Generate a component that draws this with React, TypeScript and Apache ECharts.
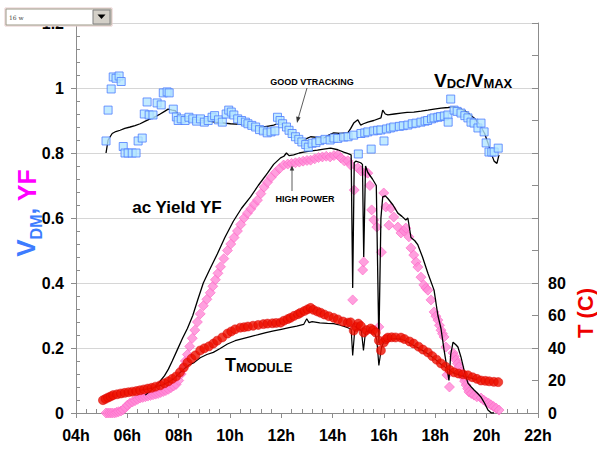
import React, { useEffect, useRef } from "react";
import * as echarts from "echarts";

// V_DM (blue squares) [hour, value]
const vdmPoints: [number, number][] = [
  [5.17, 0.837], [5.25, 0.932], [5.37, 0.997], [5.45, 1.034], [5.56, 1.03], [5.68, 1.037], [5.76, 1.02],
  [5.84, 0.82], [5.91, 0.8], [6.03, 0.8], [6.19, 0.8], [6.34, 0.8], [6.42, 0.837], [6.58, 0.846],
  [6.66, 0.92], [6.77, 0.957], [6.85, 0.917], [7.0, 0.917], [7.16, 0.954], [7.32, 0.948], [7.4, 0.985],
  [7.55, 0.988], [7.63, 0.985], [7.79, 0.935], [7.91, 0.911], [7.98, 0.9], [8.1, 0.905], [8.25, 0.9],
  [8.4, 0.91], [8.55, 0.905], [8.7, 0.898], [8.85, 0.905], [9.0, 0.895], [9.15, 0.9], [9.3, 0.91],
  [9.4, 0.915], [9.55, 0.902], [9.7, 0.895], [9.85, 0.92], [9.95, 0.932], [10.05, 0.926], [10.15, 0.917],
  [10.3, 0.905], [10.45, 0.9], [10.6, 0.895], [10.7, 0.89], [10.85, 0.885], [11.0, 0.88], [11.15, 0.872],
  [11.3, 0.868], [11.45, 0.862], [11.6, 0.865], [11.75, 0.868], [11.85, 0.91], [11.95, 0.9], [12.05, 0.89],
  [12.2, 0.88], [12.3, 0.87], [12.42, 0.86], [12.55, 0.85], [12.68, 0.842], [12.8, 0.834], [12.95, 0.826],
  [13.05, 0.818], [13.2, 0.83], [13.35, 0.832], [13.5, 0.838], [13.7, 0.842], [13.9, 0.84], [14.05, 0.846],
  [14.2, 0.845], [14.43, 0.849], [14.6, 0.85], [14.82, 0.855], [15.0, 0.797], [15.1, 0.86], [15.25, 0.862],
  [15.37, 0.865], [15.5, 0.812], [15.6, 0.868], [15.75, 0.87], [15.88, 0.871], [16.0, 0.837], [16.1, 0.874],
  [16.25, 0.877], [16.38, 0.88], [16.6, 0.882], [16.75, 0.884], [16.93, 0.886], [17.1, 0.89], [17.25, 0.892],
  [17.44, 0.895], [17.6, 0.898], [17.7, 0.9], [17.85, 0.905], [17.95, 0.908], [18.1, 0.91], [18.2, 0.912],
  [18.35, 0.914], [18.49, 0.917], [18.5, 0.895], [18.6, 0.966], [18.73, 0.932], [18.85, 0.928], [19.0, 0.923],
  [19.15, 0.915], [19.27, 0.908], [19.39, 0.895], [19.51, 0.892], [19.66, 0.877], [19.78, 0.892], [19.9, 0.865],
  [19.98, 0.831], [20.09, 0.803], [20.2, 0.803], [20.29, 0.803], [20.45, 0.815],
];

// Vdc/Vmax (black line near squares)
const vdcVmaxLine: [number, number][] = [
  [5.17, 0.8], [5.25, 0.84], [5.41, 0.86], [5.55, 0.866], [5.72, 0.87], [5.9, 0.876], [6.11, 0.88],
  [6.3, 0.884], [6.5, 0.89], [6.7, 0.898], [6.89, 0.905], [7.1, 0.912], [7.28, 0.92], [7.45, 0.928],
  [7.59, 0.935], [7.75, 0.932], [7.87, 0.93], [8.06, 0.91], [8.25, 0.908], [8.45, 0.905], [8.65, 0.903],
  [8.84, 0.9], [9.1, 0.898], [9.43, 0.895], [9.7, 0.893], [10.02, 0.89], [10.4, 0.888], [10.8, 0.886],
  [11.05, 0.882], [11.3, 0.88], [11.5, 0.883], [11.7, 0.886], [11.85, 0.89], [11.97, 0.895], [12.15, 0.878],
  [12.36, 0.865], [12.5, 0.852], [12.63, 0.846], [12.87, 0.84], [13.0, 0.845], [13.14, 0.85], [13.4, 0.848],
  [13.65, 0.846], [13.85, 0.855], [14.04, 0.862], [14.3, 0.86], [14.59, 0.862], [14.7, 0.875], [14.82, 0.892],
  [14.98, 0.902], [15.09, 0.886], [15.2, 0.89], [15.37, 0.895], [15.6, 0.9], [15.88, 0.908], [15.95, 0.932],
  [16.05, 0.92], [16.15, 0.917], [16.4, 0.92], [16.66, 0.923], [16.9, 0.925], [17.16, 0.926], [17.45, 0.929],
  [17.71, 0.932], [17.95, 0.935], [18.22, 0.938], [18.5, 0.94], [18.73, 0.942], [19.0, 0.935], [19.15, 0.93],
  [19.27, 0.923], [19.51, 0.908], [19.65, 0.895], [19.78, 0.88], [19.92, 0.86], [20.05, 0.831], [20.17, 0.8],
  [20.29, 0.775], [20.4, 0.768], [20.48, 0.794],
];

// ac Yield YF (pink diamonds)
const yieldPoints: [number, number][] = [
  [5.17, 0], [5.25, 0], [5.33, 0], [5.41, 0], [5.5, 0], [5.58, 0.002], [5.66, 0.004], [5.75, 0.006],
  [5.83, 0.01], [5.92, 0.016], [6.0, 0.024], [6.1, 0.03], [6.2, 0.034], [6.3, 0.038], [6.4, 0.042],
  [6.5, 0.046], [6.6, 0.048], [6.7, 0.05], [6.8, 0.052], [6.9, 0.054], [7.0, 0.056], [7.1, 0.058],
  [7.2, 0.06], [7.3, 0.063], [7.4, 0.066], [7.5, 0.069], [7.6, 0.073], [7.7, 0.078], [7.8, 0.083],
  [7.9, 0.088], [8.0, 0.1], [8.1, 0.12], [8.18, 0.14], [8.26, 0.16], [8.34, 0.18], [8.43, 0.205],
  [8.53, 0.23], [8.63, 0.255], [8.73, 0.28], [8.84, 0.305], [8.96, 0.33], [9.1, 0.35], [9.23, 0.37],
  [9.33, 0.39], [9.43, 0.41], [9.53, 0.43], [9.63, 0.45], [9.76, 0.475], [9.9, 0.5], [10.03, 0.52],
  [10.16, 0.54], [10.29, 0.56], [10.42, 0.58], [10.55, 0.6], [10.68, 0.615], [10.81, 0.628], [10.94, 0.642],
  [11.07, 0.655], [11.2, 0.675], [11.33, 0.695], [11.46, 0.71], [11.6, 0.725], [11.77, 0.74], [11.93, 0.752],
  [12.09, 0.763], [12.25, 0.766], [12.4, 0.768], [12.55, 0.77], [12.7, 0.772], [12.85, 0.775], [13.0, 0.777],
  [13.14, 0.778], [13.3, 0.782], [13.45, 0.786], [13.6, 0.788], [13.75, 0.79], [13.9, 0.788], [14.05, 0.792],
  [14.2, 0.794], [14.32, 0.785], [14.45, 0.776], [14.59, 0.776], [14.7, 0.763], [14.78, 0.348], [14.84, 0.686],
  [14.98, 0.754], [15.1, 0.745], [15.17, 0.44], [15.21, 0.465], [15.3, 0.74], [15.37, 0.738], [15.45, 0.7],
  [15.52, 0.625], [15.6, 0.594], [15.72, 0.572], [15.8, 0.265], [15.9, 0.495], [15.99, 0.677], [16.07, 0.634],
  [16.19, 0.578], [16.27, 0.63], [16.38, 0.603], [16.54, 0.572], [16.66, 0.554], [16.78, 0.56], [16.85, 0.569],
  [16.97, 0.542], [17.05, 0.508], [17.16, 0.486], [17.25, 0.465], [17.32, 0.449], [17.44, 0.418], [17.55, 0.394],
  [17.63, 0.385], [17.71, 0.378], [17.83, 0.348], [17.95, 0.311], [18.02, 0.298], [18.1, 0.286], [18.16, 0.27],
  [18.22, 0.255], [18.28, 0.244], [18.34, 0.234], [18.41, 0.203], [18.45, 0.117], [18.55, 0.08], [18.69, 0.185],
  [18.75, 0.174], [18.8, 0.163], [18.86, 0.152], [18.92, 0.142], [19.0, 0.126], [19.08, 0.111], [19.14, 0.098],
  [19.2, 0.086], [19.26, 0.075], [19.31, 0.065], [19.4, 0.06], [19.51, 0.055], [19.62, 0.05], [19.78, 0.046],
  [19.88, 0.04], [19.98, 0.034], [20.08, 0.03], [20.17, 0.025], [20.27, 0.02], [20.37, 0.015], [20.48, 0.009],
];

// reference ac yield (black line along diamonds)
const yieldLine: [number, number][] = [
  [6.7, 0.055], [6.85, 0.065], [7.0, 0.075], [7.15, 0.085], [7.3, 0.1], [7.45, 0.115], [7.6, 0.135],
  [7.75, 0.16], [7.95, 0.195], [8.15, 0.23], [8.34, 0.26], [8.55, 0.3], [8.75, 0.35], [8.96, 0.4],
  [9.2, 0.44], [9.51, 0.49], [9.8, 0.54], [10.13, 0.59], [10.45, 0.63], [10.8, 0.665], [11.1, 0.7],
  [11.46, 0.738], [11.7, 0.765], [11.97, 0.785], [12.1, 0.79], [12.2, 0.8], [12.3, 0.792], [12.48, 0.794],
  [12.7, 0.8], [12.87, 0.803], [13.1, 0.806], [13.41, 0.809], [13.65, 0.812], [13.92, 0.815], [14.2, 0.81],
  [14.43, 0.803], [14.6, 0.798], [14.72, 0.794], [14.78, 0.385], [14.84, 0.77], [14.9, 0.775], [15.09, 0.77],
  [15.16, 0.765], [15.21, 0.48], [15.28, 0.76], [15.37, 0.74], [15.55, 0.72], [15.7, 0.7], [15.8, 0.215],
  [15.88, 0.6], [15.95, 0.665], [16.05, 0.668], [16.15, 0.66], [16.35, 0.64], [16.54, 0.615], [16.7, 0.605],
  [16.85, 0.594], [16.93, 0.6], [17.05, 0.54], [17.2, 0.53], [17.32, 0.517], [17.5, 0.48], [17.71, 0.43],
  [17.95, 0.378], [18.1, 0.3], [18.22, 0.26], [18.34, 0.194], [18.45, 0.14], [18.53, 0.1], [18.6, 0.18],
  [18.69, 0.218], [18.8, 0.21], [18.88, 0.203], [19.0, 0.172], [19.12, 0.132], [19.27, 0.092], [19.4, 0.08],
  [19.51, 0.071], [19.65, 0.06], [19.78, 0.049], [19.92, 0.03], [20.05, 0.009], [20.18, 0.0], [20.29, 0.0],
];

// T (red circles, right axis, °C)
const tempPoints: [number, number][] = [
  [5.05, 7.9], [5.15, 8.7], [5.25, 9.5], [5.35, 10.2], [5.45, 11], [5.6, 11.5], [5.75, 12], [5.9, 12.4],
  [6.05, 12.8], [6.2, 13.1], [6.35, 13.5], [6.5, 14], [6.65, 14.5], [6.8, 15], [6.95, 15.5], [7.1, 16.2],
  [7.28, 17], [7.45, 18.3], [7.6, 19.5], [7.75, 21], [7.9, 22.5], [8.05, 25], [8.2, 28], [8.34, 31],
  [8.5, 33.5], [8.65, 35.5], [8.84, 38.5], [9.0, 39.8], [9.18, 41], [9.35, 42.7], [9.5, 44.5], [9.7, 46.5],
  [9.9, 48.9], [10.05, 50.2], [10.2, 51.5], [10.4, 52.5], [10.55, 52.8], [10.7, 53.2], [10.9, 53.7],
  [11.1, 54.2], [11.3, 54.7], [11.46, 55], [11.65, 55.2], [11.8, 55.4], [11.97, 55.6], [12.1, 56.8],
  [12.25, 57.8], [12.36, 58.6], [12.5, 59.8], [12.65, 60.8], [12.75, 61.7], [12.9, 62.8], [13.02, 63.8],
  [13.14, 64.7], [13.25, 63.5], [13.4, 62.5], [13.53, 61.7], [13.68, 60.6], [13.85, 59.6], [14.04, 58.6],
  [14.2, 57.6], [14.4, 56.3], [14.59, 55.6], [14.7, 55.8], [14.82, 50.7], [14.92, 53], [15.0, 55],
  [15.1, 53.5], [15.21, 49.5], [15.32, 51], [15.48, 52], [15.58, 51], [15.68, 49.5], [15.8, 44.6],
  [15.88, 38.5], [15.99, 43.4], [16.08, 45.5], [16.15, 46.4], [16.3, 46.6], [16.45, 46.5], [16.66, 46.4],
  [16.8, 45.5], [17.0, 44], [17.16, 42.7], [17.35, 40.8], [17.52, 39], [17.71, 37.3], [17.88, 35],
  [18.05, 32.8], [18.22, 30.5], [18.4, 28.5], [18.56, 26.5], [18.73, 25], [18.9, 24.3], [19.08, 23.8],
  [19.27, 23.2], [19.45, 22], [19.62, 21], [19.78, 20], [19.95, 19.8], [20.1, 19.5], [20.28, 19.2], [20.45, 19],
];

// T module (black line below red circles)
const tModuleLine: [number, number][] = [
  [6.5, 14], [6.8, 14.8], [7.0, 15.5], [7.2, 16.5], [7.4, 17.5], [7.6, 19], [7.8, 21], [8.0, 24],
  [8.2, 27], [8.4, 29.5], [8.6, 31], [8.84, 34], [9.1, 36], [9.35, 37.3], [9.6, 39.5], [9.9, 42.5],
  [10.2, 44.5], [10.5, 45.8], [10.8, 47], [11.1, 48.2], [11.4, 49.5], [11.7, 50.5], [12.0, 51.5],
  [12.3, 52.5], [12.6, 53.5], [12.87, 54.5], [12.99, 58], [13.08, 55.6], [13.2, 56.2], [13.5, 55.5],
  [13.8, 55.2], [14.04, 55], [14.3, 54], [14.59, 52.5], [14.72, 51.5], [14.78, 35.4], [14.86, 51],
  [15.0, 52], [15.12, 50.5], [15.2, 38.5], [15.28, 50], [15.5, 51], [15.65, 48.5], [15.72, 45],
  [15.8, 29.3], [15.9, 40], [15.99, 44], [16.15, 45.5], [16.4, 45.8], [16.66, 45.5], [16.9, 44],
  [17.16, 41.5], [17.45, 39], [17.71, 36.5], [18.0, 33], [18.22, 30], [18.5, 27], [18.73, 24.5],
  [19.0, 23], [19.3, 22], [19.6, 20.5],
];

const xTickHours = [4, 6, 8, 10, 12, 14, 16, 18, 20, 22];
const rightLabelMax = 80;

const FONT = "Liberation Sans, Arial, sans-serif";

export default function App() {
  const ref = useRef<HTMLDivElement>(null);
  useEffect(() => {
    if (!ref.current) return;
    const chart = echarts.init(ref.current, null, { renderer: "svg" });
    const axisGray = "#8c8c8c";
    chart.setOption({
      animation: false,
      backgroundColor: "#ffffff",
      textStyle: { fontFamily: FONT },
      grid: { left: 76, right: 59, top: 23, bottom: 37, containLabel: false },
      xAxis: {
        type: "value",
        min: xTickHours[0],
        max: xTickHours[xTickHours.length - 1],
        interval: 2,
        axisLine: { lineStyle: { color: axisGray, width: 1 } },
        axisTick: { show: true, inside: false, length: 5, lineStyle: { color: axisGray } },
        minorTick: { show: true, splitNumber: 5, length: -4, lineStyle: { color: axisGray } },
        splitLine: { show: false },
        axisLabel: {
          margin: 14,
          fontSize: 16,
          fontWeight: "bold",
          color: "#000",
          fontFamily: FONT,
          formatter: (v: number) => (v < 10 ? "0" : "") + v + "h",
        },
      },
      yAxis: [
        {
          type: "value",
          min: 0,
          max: 1.2,
          interval: 0.2,
          axisLine: { show: true, lineStyle: { color: axisGray, width: 1 } },
          axisTick: { show: true, inside: false, length: 5, lineStyle: { color: axisGray } },
          minorTick: { show: true, splitNumber: 5, length: -4, lineStyle: { color: axisGray } },
          splitLine: { show: true, lineStyle: { color: "#d6d6d6", width: 1 } },
          axisLabel: {
            margin: 12,
            fontSize: 16,
            fontWeight: "bold",
            color: "#000",
            fontFamily: FONT,
          },
        },
        {
          type: "value",
          position: "right",
          min: 0,
          max: 240,
          interval: 20,
          axisLine: { show: true, lineStyle: { color: axisGray, width: 1 } },
          axisTick: { show: true, inside: true, length: 6, lineStyle: { color: axisGray } },
          splitLine: { show: false },
          axisLabel: {
            margin: 10,
            fontSize: 16,
            fontWeight: "bold",
            color: "#000",
            fontFamily: FONT,
            formatter: (v: number) => (v <= rightLabelMax ? String(v) : ""),
          },
        },
      ],
      series: [
        {
          name: "YF",
          type: "scatter",
          data: yieldPoints,
          symbol: "diamond",
          symbolSize: 10,
          itemStyle: { color: "#ff88d6", borderColor: "#ff66c6", borderWidth: 0.8 },
          z: 2,
        },
        {
          name: "ac yield ref",
          type: "line",
          data: yieldLine,
          showSymbol: false,
          symbol: "none",
          lineStyle: { color: "#000", width: 1.3 },
          z: 3,
        },
        {
          name: "VDM",
          type: "scatter",
          data: vdmPoints,
          symbol: "rect",
          symbolSize: 8,
          itemStyle: { color: "#b4e6ff", borderColor: "#4d7dff", borderWidth: 1 },
          z: 4,
        },
        {
          name: "Vdc/Vmax",
          type: "line",
          data: vdcVmaxLine,
          showSymbol: false,
          symbol: "none",
          lineStyle: { color: "#000", width: 1.3 },
          z: 3,
        },
        {
          name: "Tmodule line",
          type: "line",
          yAxisIndex: 1,
          data: tModuleLine,
          showSymbol: false,
          symbol: "none",
          lineStyle: { color: "#000", width: 1.2 },
          z: 3,
        },
        {
          name: "T",
          type: "scatter",
          yAxisIndex: 1,
          data: tempPoints,
          symbol: "circle",
          symbolSize: 9,
          itemStyle: { color: "#ee1000", borderColor: "#d80000", borderWidth: 0.6 },
          z: 5,
        },
      ],
      graphic: [
        {
          type: "text",
          x: 26,
          y: 213,
          rotation: Math.PI / 2,
          style: {
            text: "{v|V}{d|DM}{c|, }{y|YF}",
            align: "center",
            verticalAlign: "middle",
            rich: {
              v: { fontSize: 26, fontWeight: "bold", fill: "#3d7cff", fontFamily: FONT, verticalAlign: "bottom" },
              d: { fontSize: 16, fontWeight: "bold", fill: "#3d7cff", fontFamily: FONT, verticalAlign: "bottom", padding: [0, 0, -5, 0] },
              c: { fontSize: 24, fontWeight: "bold", fill: "#3d7cff", fontFamily: FONT, verticalAlign: "bottom" },
              y: { fontSize: 25, fontWeight: "bold", fill: "#ff00ff", fontFamily: FONT, verticalAlign: "bottom" },
            },
          },
          z: 10,
        },
        {
          type: "text",
          x: 585,
          y: 313,
          rotation: Math.PI / 2,
          style: {
            text: "T (C)",
            align: "center",
            verticalAlign: "middle",
            fontSize: 22,
            fontWeight: "bold",
            fill: "#ee0000",
            fontFamily: FONT,
          },
          z: 10,
        },
        {
          type: "text",
          x: 434,
          y: 80,
          style: {
            text: "{a|V}{b|DC}{a|/V}{b|MAX}",
            verticalAlign: "middle",
            rich: {
              a: { fontSize: 19, fontWeight: "bold", fill: "#000", fontFamily: FONT, verticalAlign: "bottom" },
              b: { fontSize: 13, fontWeight: "bold", fill: "#000", fontFamily: FONT, verticalAlign: "bottom" },
            },
          },
          z: 10,
        },
        {
          type: "text",
          x: 312,
          y: 82,
          style: {
            text: "GOOD VTRACKING",
            align: "center",
            verticalAlign: "middle",
            fontSize: 9,
            fontWeight: "bold",
            fill: "#000",
            fontFamily: FONT,
          },
          z: 10,
        },
        {
          type: "line",
          shape: { x1: 307, y1: 88, x2: 298, y2: 119 },
          style: { stroke: "#333", lineWidth: 0.8 },
          z: 10,
        },
        {
          type: "polygon",
          shape: { points: [[297, 123], [300.6, 117.6], [296.2, 116.4]] },
          style: { fill: "#333" },
          z: 10,
        },
        {
          type: "text",
          x: 305,
          y: 199,
          style: {
            text: "HIGH POWER",
            align: "center",
            verticalAlign: "middle",
            fontSize: 9,
            fontWeight: "bold",
            fill: "#000",
            fontFamily: FONT,
          },
          z: 10,
        },
        {
          type: "line",
          shape: { x1: 292, y1: 191, x2: 292, y2: 169 },
          style: { stroke: "#333", lineWidth: 0.8 },
          z: 10,
        },
        {
          type: "polygon",
          shape: { points: [[292, 165.5], [289.8, 170.5], [294.2, 170.5]] },
          style: { fill: "#333" },
          z: 10,
        },
        {
          type: "text",
          x: 177,
          y: 207,
          style: {
            text: "ac Yield YF",
            align: "center",
            verticalAlign: "middle",
            fontSize: 17,
            fontWeight: "bold",
            fill: "#000",
            fontFamily: FONT,
          },
          z: 10,
        },
        {
          type: "text",
          x: 225,
          y: 365,
          style: {
            text: "{a|T}{b|MODULE}",
            verticalAlign: "middle",
            rich: {
              a: { fontSize: 18, fontWeight: "bold", fill: "#000", fontFamily: FONT, verticalAlign: "bottom" },
              b: { fontSize: 13, fontWeight: "bold", fill: "#000", fontFamily: FONT, verticalAlign: "bottom" },
            },
          },
          z: 10,
        },
        {
          type: "rect",
          shape: { x: 5, y: 8, width: 107, height: 18 },
          style: { fill: "#ffffff", stroke: "#e6caca", lineWidth: 1 },
          z: 20,
        },
        {
          type: "rect",
          shape: { x: 6, y: 9, width: 105, height: 16 },
          style: { fill: "#ffffff", stroke: "#9c9886", lineWidth: 1 },
          z: 21,
        },
        {
          type: "text",
          x: 9,
          y: 17,
          style: {
            text: "16 w",
            verticalAlign: "middle",
            fontSize: 6,
            fill: "#444",
            fontFamily: "DejaVu Serif, serif",
          },
          z: 22,
        },
        {
          type: "rect",
          shape: { x: 93, y: 10, width: 17, height: 14 },
          style: { fill: "#d4d0c8", stroke: "#808080", lineWidth: 1 },
          z: 22,
        },
        {
          type: "polygon",
          shape: { points: [[97.5, 14.5], [105.5, 14.5], [101.5, 19]] },
          style: { fill: "#000" },
          z: 23,
        },
      ],
    });
    return () => chart.dispose();
  }, []);
  return (
    <div
      ref={ref}
      style={{ position: "absolute", left: 0, top: 0, width: 597, height: 450 }}
    />
  );
}
